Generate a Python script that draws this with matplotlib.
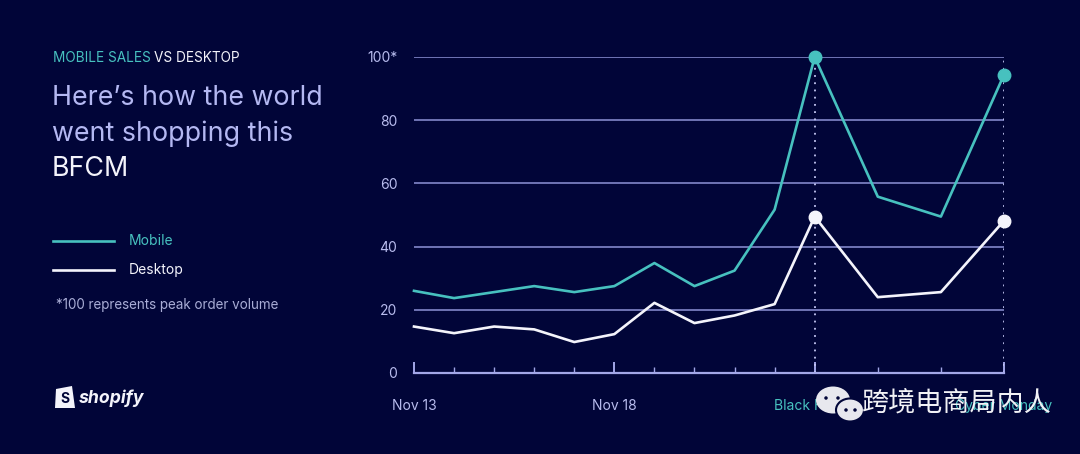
import numpy as np
import matplotlib.pyplot as plt
from matplotlib.patches import Polygon, Ellipse

# data (index of day since Nov 13; Black Friday = Nov 23, Cyber Monday = Nov 26)
days = [0, 1, 2, 3, 4, 5, 6, 7, 8, 9, 10, 11, 12, 13]
mobile = [26, 23.7, 25.6, 27.5, 25.6, 27.5, 34.8, 27.5, 32.4, 51.7, 100, 55.8, 49.5, 94.4]
desktop = [14.7, 12.6, 14.7, 13.8, 9.8, 12.3, 22.2, 15.8, 18.2, 21.8, 49.5, 24, 25.6, 48.2]
highlight = [10, 13]
major_days = [0, 5, 10, 13]
major_labels = ["Nov 13", "Nov 18", "Black Friday", "Cyber Monday"]
yticks = [0, 20, 40, 60, 80, 100]
ylabels = ["0", "20", "40", "60", "80", "100*"]

BG = "#010538"
TEAL = "#47c1bf"
GRID = "#8d92d6"
LAV = "#b8bcee"
WHITE = "#f4f4fb"

plt.rcParams['font.family'] = ['Inter', 'DejaVu Sans']

W, H = 1080, 454
fig = plt.figure(figsize=(W / 100, H / 100), dpi=100, facecolor=BG)


def ftext(x, y, s, **kw):
    # place text using pixel coords of the picture
    return fig.text(x / W, 1 - y / H, s, **kw)


# stretched spacing after Black Friday
def fwd(d):
    d = np.asarray(d, dtype=float)
    return np.where(d <= 10, d, 10 + (d - 10) * 63 / 40)


def inv(u):
    u = np.asarray(u, dtype=float)
    return np.where(u <= 10, u, 10 + (u - 10) * 40 / 63)


ax = fig.add_axes([414 / W, (H - 373) / H, (1004 - 414) / W, (373 - 57) / H])
ax.set_facecolor(BG)
ax.set_xscale('function', functions=(fwd, inv))
ax.set_xlim(0, 13)
ax.set_ylim(0, 100)

for s in ['top', 'right', 'left']:
    ax.spines[s].set_visible(False)
ax.spines['bottom'].set_color("#a3a7e8")
ax.spines['bottom'].set_linewidth(1.6)

for yv in yticks[1:]:
    ax.axhline(yv, color=GRID, lw=1.1, zorder=1)

ax.vlines(highlight, 0, 100, colors="#c3c6f2", linestyles=(0, (1, 3)), lw=1.3, zorder=2)

ax.plot(days, mobile, color=TEAL, lw=1.9, zorder=3, clip_on=False)
ax.plot(days, desktop, color=WHITE, lw=1.9, zorder=3, clip_on=False)
ax.plot([days[i] for i in highlight], [mobile[i] for i in highlight], 'o',
        color=TEAL, ms=9, zorder=4, clip_on=False)
ax.plot([days[i] for i in highlight], [desktop[i] for i in highlight], 'o',
        color=WHITE, ms=9, zorder=4, clip_on=False)

ax.set_xticks(major_days)
ax.set_xticks([d for d in days if d not in major_days], minor=True)
ax.set_xticklabels(major_labels)
ax.tick_params(axis='x', which='major', direction='in', length=8, width=1.4,
               color="#a3a7e8", pad=19, labelsize=10, labelcolor=LAV)
ax.tick_params(axis='x', which='minor', direction='in', length=4, width=1,
               color="#a3a7e8")
for lab in ax.get_xticklabels()[2:]:
    lab.set_color(TEAL)

ax.set_yticks(yticks)
ax.set_yticklabels(ylabels)
ax.tick_params(axis='y', length=0, pad=12, labelsize=10, labelcolor=LAV)

# left panel text
ftext(53, 62, "MOBILE SALES", color=TEAL, fontsize=9.8, va='baseline')
ftext(154, 62, "VS DESKTOP", color=WHITE, fontsize=9.8, va='baseline')
ftext(52, 105, "Here\u2019s how the world", color="#b4b8f2", fontsize=19.3, va='baseline')
ftext(52, 141, "went shopping this", color="#b4b8f2", fontsize=19.3, va='baseline')
ftext(52, 176, "BFCM", color=WHITE, fontsize=19.3, va='baseline')

fig.add_artist(plt.Line2D([53 / W, 114 / W], [1 - 241 / H, 1 - 241 / H],
                          color=TEAL, lw=1.9))
fig.add_artist(plt.Line2D([53 / W, 114 / W], [1 - 270 / H, 1 - 270 / H],
                          color=WHITE, lw=1.9))
ftext(129, 241, "Mobile", color=TEAL, fontsize=10, va='center')
ftext(129, 270, "Desktop", color=WHITE, fontsize=10, va='center')
ftext(56, 305, "*100 represents peak order volume", color="#a9add6", fontsize=9.7, va='center')

# shopify logo
bag = [(56, 389), (72, 386), (75, 408), (55, 408)]
fig.add_artist(Polygon([(x / W, 1 - y / H) for x, y in bag], closed=True,
                       facecolor=WHITE, edgecolor='none', transform=fig.transFigure))
ftext(64.5, 399, "S", color=BG, fontsize=10, fontweight='bold', ha='center', va='center')
ftext(79, 398, "shopify", color=WHITE, fontsize=12.7, fontweight='bold',
      fontstyle='italic', va='center')

# watermark
fig.add_artist(Ellipse((833 / W, 1 - 400 / H), 34 / W, 27 / H, facecolor="#e8e8ee",
                       edgecolor='none', transform=fig.transFigure))
fig.add_artist(Ellipse((850 / W, 1 - 410 / H), 28 / W, 23 / H, facecolor="#e8e8ee",
                       edgecolor=BG, lw=1.5, transform=fig.transFigure))
for ex, ey in [(826, 398), (838, 398), (846, 410), (855, 410)]:
    fig.add_artist(Ellipse((ex / W, 1 - ey / H), 3.5 / W, 3.5 / H, facecolor=BG,
                           edgecolor='none', transform=fig.transFigure))
ftext(862, 404, "跨境电商局内人", color="#f2f2f6", fontsize=19.5,
      family=['Noto Sans CJK SC', 'DejaVu Sans'], va='center')

fig.savefig("out.png", dpi=100, facecolor=BG)
